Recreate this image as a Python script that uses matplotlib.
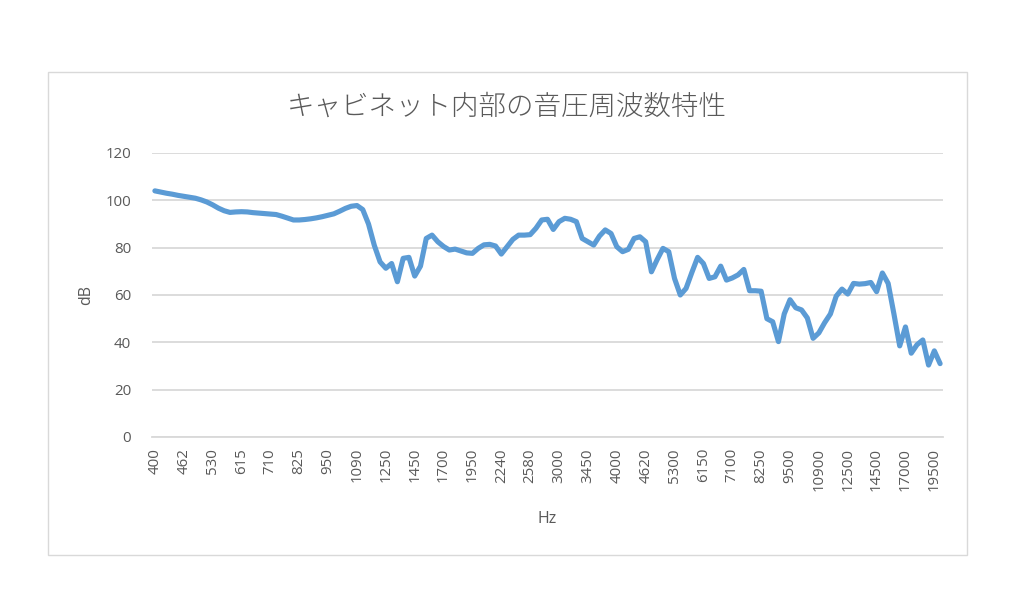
import matplotlib
matplotlib.use("Agg")
import matplotlib.pyplot as plt
from matplotlib.patches import Rectangle

plt.rcParams['font.family'] = ['Noto Sans CJK JP', 'DejaVu Sans']

title = "キャビネット内部の音圧周波数特性"
x_label = "Hz"
y_label = "dB"

tick_labels = ["400", "462", "530", "615", "710", "825", "950", "1090", "1250", "1450",
               "1700", "1950", "2240", "2580", "3000", "3450", "4000", "4620", "5300",
               "6150", "7100", "8250", "9500", "10900", "12500", "14500", "17000", "19500"]
label_step = 5

db_values = [
    104.0, 103.5, 103.0, 102.6, 102.1, 101.7, 101.3, 100.9, 100.2, 99.3,
    98.1, 96.7, 95.6, 94.9, 95.1, 95.2, 95.1, 94.8, 94.6, 94.4,
    94.2, 94.0, 93.3, 92.5, 91.7, 91.7, 91.9, 92.2, 92.6, 93.1,
    93.7, 94.3, 95.4, 96.6, 97.5, 97.8, 96.1, 90.0, 81.0, 74.0,
    71.3, 73.3, 65.6, 75.5, 75.9, 68.0, 72.2, 83.9, 85.3, 82.5,
    80.5, 79.0, 79.4, 78.6, 77.8, 77.6, 79.7, 81.2, 81.4, 80.7,
    77.3, 80.4, 83.5, 85.3, 85.3, 85.5, 88.2, 91.7, 92.0, 87.7,
    91.0, 92.4, 92.0, 91.0, 83.9, 82.5, 81.1, 84.9, 87.5, 86.0,
    80.4, 78.3, 79.3, 83.9, 84.6, 82.5, 69.8, 75.0, 79.7, 78.3,
    67.0, 60.0, 62.8, 69.5, 75.9, 73.3, 67.0, 67.7, 72.2, 66.3,
    67.2, 68.5, 70.8, 61.8, 61.8, 61.6, 50.0, 48.7, 40.3, 52.0,
    58.0, 54.6, 53.7, 50.3, 41.7, 44.0, 48.3, 52.0, 59.5, 62.5,
    60.4, 64.9, 64.6, 64.8, 65.3, 61.4, 69.3, 64.9, 52.0, 38.5,
    46.5, 35.4, 39.0, 41.0, 30.4, 36.4, 31.0,
]
y_ticks = [0, 20, 40, 60, 80, 100, 120]

text_color = "#595959"
grid_color = "#d9d9d9"
line_color = "#5b9bd5"
num_font = ['Open Sans', 'DejaVu Sans']

fig = plt.figure(figsize=(10.24, 5.95), dpi=100)
fig.patch.set_facecolor("white")
fig.patches.append(Rectangle((48 / 1024, 1 - 555 / 595), (967 - 48) / 1024, (555 - 72) / 595,
                             transform=fig.transFigure, fill=False,
                             edgecolor="#d9d9d9", linewidth=1.0))

ax = fig.add_axes([152 / 1024, 1 - 437 / 595, (943 - 152) / 1024, (437 - 153) / 595])
n = len(db_values)
xs = list(range(n))
ax.plot(xs, db_values, color=line_color, linewidth=3.7, solid_joinstyle="round",
        solid_capstyle="round", zorder=3)

ax.set_xlim(-0.5, n - 0.5)
ax.set_ylim(0, 120)
ax.set_yticks(y_ticks)
ax.set_yticklabels([str(v) for v in y_ticks], family=num_font)
ax.set_xticks(xs[::label_step][:len(tick_labels)])
ax.set_xticklabels(tick_labels, rotation=90, family=num_font)

ax.grid(axis="y", color=grid_color, linewidth=1.3)
ax.set_axisbelow(True)
for s in ["top", "right", "left"]:
    ax.spines[s].set_visible(False)
ax.spines["bottom"].set_color(grid_color)
ax.spines["bottom"].set_linewidth(1.3)
ax.tick_params(axis="both", length=0, colors=text_color, labelsize=10.8)
ax.tick_params(axis="y", pad=15)
ax.tick_params(axis="x", pad=8)

ax.set_xlabel(x_label, color=text_color, fontsize=11.5, labelpad=14, family=num_font)
ax.set_ylabel(y_label, color=text_color, fontsize=11.5, labelpad=8, family=num_font)
fig.text(507 / 1024, 1 - 107 / 595, title, ha="center", va="center",
         fontsize=19.8, color=text_color, fontweight="light")

fig.savefig("out.png", dpi=100, facecolor="white")
